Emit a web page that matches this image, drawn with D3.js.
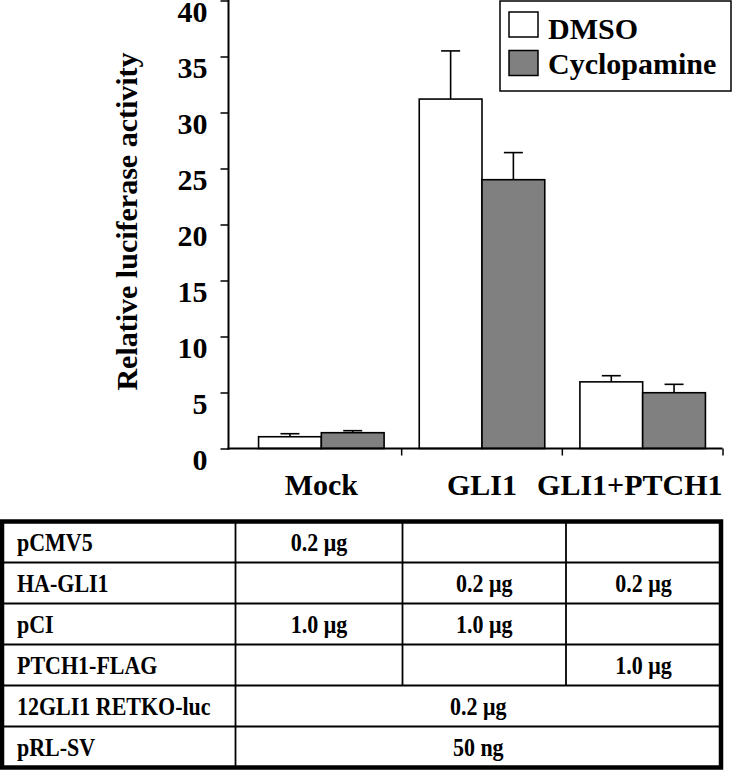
<!DOCTYPE html>
<html>
<head>
<meta charset="utf-8">
<script src="https://cdn.jsdelivr.net/npm/d3@7"></script>
<style>
  html, body { margin: 0; padding: 0; background: #fff; }
  svg { display: block; }
  text { font-family: "Liberation Serif", "Times New Roman", serif; font-weight: bold; fill: #000; }
</style>
</head>
<body>
<svg id="chart" width="736" height="772"></svg>
<script>
// ---------------- data ----------------
const categories = ["Mock", "GLI1", "GLI1+PTCH1"];
const seriesNames = ["DMSO", "Cyclopamine"];
const dmsoValues = [1.05, 31.2, 5.95];
const dmsoErrors = [0.27, 4.3, 0.55];
const cycValues = [1.41, 24.0, 4.98];
const cycErrors = [0.18, 2.42, 0.75];
const yTicks = [0, 5, 10, 15, 20, 25, 30, 35, 40];
const yTitle = "Relative luciferase activity";

const tableRowLabels = ["pCMV5", "HA-GLI1", "pCI", "PTCH1-FLAG", "12GLI1 RETKO-luc", "pRL-SV"];
const tableCells = [
  ["0.2 μg", "", ""],
  ["", "0.2 μg", "0.2 μg"],
  ["1.0 μg", "1.0 μg", ""],
  ["", "", "1.0 μg"],
  ["0.2 μg"],           // spans all three columns
  ["50 ng"]             // spans all three columns
];

// ---------------- setup ----------------
const svg = d3.select("#chart");
const axisX = 228.5, plotRight = 722.5, plotTop = 0.5, plotBottom = 448.5;

const y = d3.scaleLinear().domain([0, 40]).range([plotBottom, plotTop]);
const x = d3.scaleBand().domain(categories).range([241, 723]).paddingInner(0).paddingOuter(0);
const xs = d3.scaleBand().domain(seriesNames).range([0, x.bandwidth()]).paddingInner(0).paddingOuter(0.28);

const fills = { "DMSO": "#ffffff", "Cyclopamine": "#808080" };

const data = [];
categories.forEach((c, i) => {
  data.push({ cat: c, s: "DMSO", v: dmsoValues[i], e: dmsoErrors[i] });
  data.push({ cat: c, s: "Cyclopamine", v: cycValues[i], e: cycErrors[i] });
});

// ---------------- bars ----------------
const g = svg.append("g");
g.selectAll("rect.bar").data(data).enter().append("rect")
  .attr("class", "bar")
  .attr("x", d => x(d.cat) + xs(d.s))
  .attr("y", d => y(d.v))
  .attr("width", xs.bandwidth())
  .attr("height", d => y(0) - y(d.v))
  .attr("fill", d => fills[d.s])
  .attr("stroke", "#000")
  .attr("stroke-width", 1.6);

// error bars (upper only)
const capW = 19;
g.selectAll("line.err").data(data).enter().append("line")
  .attr("x1", d => x(d.cat) + xs(d.s) + xs.bandwidth() / 2)
  .attr("x2", d => x(d.cat) + xs(d.s) + xs.bandwidth() / 2)
  .attr("y1", d => y(d.v))
  .attr("y2", d => y(d.v + d.e))
  .attr("stroke", "#000").attr("stroke-width", 1.6);
g.selectAll("line.cap").data(data).enter().append("line")
  .attr("x1", d => x(d.cat) + xs(d.s) + xs.bandwidth() / 2 - capW / 2)
  .attr("x2", d => x(d.cat) + xs(d.s) + xs.bandwidth() / 2 + capW / 2)
  .attr("y1", d => y(d.v + d.e))
  .attr("y2", d => y(d.v + d.e))
  .attr("stroke", "#000").attr("stroke-width", 1.6);

// ---------------- y axis ----------------
const yAxis = d3.axisLeft(y).tickValues(yTicks).tickSize(8).tickPadding(13).tickSizeOuter(0);
const yg = svg.append("g").attr("transform", `translate(${axisX},0)`).call(yAxis);
yg.select(".domain").remove();
yg.selectAll(".tick line").attr("stroke", "#000").attr("stroke-width", 1.5);
yg.selectAll(".tick text")
  .attr("dy", "20.8px")
  .style("font-family", '"Liberation Serif", "Times New Roman", serif')
  .style("font-weight", "bold")
  .style("font-size", "30px")
  .attr("fill", "#000");
svg.append("line")
  .attr("x1", axisX).attr("x2", axisX)
  .attr("y1", y(40) - 0.5).attr("y2", plotBottom + 1)
  .attr("stroke", "#000").attr("stroke-width", 2);

// ---------------- x axis ----------------
svg.append("line")
  .attr("x1", axisX - 1).attr("x2", plotRight)
  .attr("y1", plotBottom).attr("y2", plotBottom)
  .attr("stroke", "#000").attr("stroke-width", 2);
svg.selectAll("line.xtick").data(categories).enter().append("line")
  .attr("x1", d => x(d) + x.bandwidth()).attr("x2", d => x(d) + x.bandwidth())
  .attr("y1", plotBottom).attr("y2", plotBottom + 7)
  .attr("stroke", "#000").attr("stroke-width", 1.5);
svg.selectAll("text.xlab").data(categories).enter().append("text")
  .attr("class", "xlab")
  .attr("x", d => x(d) + x.bandwidth() / 2)
  .attr("y", 495)
  .attr("text-anchor", "middle")
  .style("font-size", "30px")
  .text(d => d)
  .each(function () {
    const w = this.getComputedTextLength();
    const cx = +this.getAttribute("x");
    if (cx + w / 2 > plotRight) this.setAttribute("x", plotRight - w / 2);
  });

// y title
svg.append("text")
  .attr("transform", "translate(137,221.5) rotate(-90)")
  .attr("text-anchor", "middle")
  .style("font-size", "30px")
  .text(yTitle);

// ---------------- legend ----------------
const lg = svg.append("g");
lg.append("rect").attr("x", 500).attr("y", 1).attr("width", 231).attr("height", 90)
  .attr("fill", "#fff").attr("stroke", "#000").attr("stroke-width", 1.5);
seriesNames.forEach((s, i) => {
  lg.append("rect").attr("x", 509).attr("y", 12 + i * 38.5).attr("width", 29).attr("height", 25)
    .attr("fill", fills[s]).attr("stroke", "#000").attr("stroke-width", 1.5);
  lg.append("text").attr("x", 548).attr("y", 38.5 + i * 35.5)
    .style("font-size", "30px").text(s);
});

// ---------------- table ----------------
const tblLeft = 2, tblRight = 721, tblTop = 521.5, rowH = 41;
const colX = [tblLeft, 235.5, 402.5, 566, tblRight];
const tg = svg.append("g");
const nRows = tableRowLabels.length;
d3.range(1, nRows).forEach(i => {
  tg.append("line").attr("x1", tblLeft).attr("x2", tblRight)
    .attr("y1", tblTop + i * rowH).attr("y2", tblTop + i * rowH)
    .attr("stroke", "#000").attr("stroke-width", 1.8);
});
tableCells.forEach((row, r) => {
  const y0 = tblTop + r * rowH, y1 = y0 + rowH;
  tg.append("line").attr("x1", colX[1]).attr("x2", colX[1]).attr("y1", y0).attr("y2", y1)
    .attr("stroke", "#000").attr("stroke-width", 1.8);
  if (row.length === 3) {
    [2, 3].forEach(c => {
      tg.append("line").attr("x1", colX[c]).attr("x2", colX[c]).attr("y1", y0).attr("y2", y1)
        .attr("stroke", "#000").attr("stroke-width", 1.8);
    });
  }
});
tg.append("rect").attr("x", tblLeft).attr("y", tblTop)
  .attr("width", tblRight - tblLeft).attr("height", nRows * rowH)
  .attr("fill", "none").attr("stroke", "#000").attr("stroke-width", 4.5);

function cellText(tx, ty, str, anchor) {
  tg.append("text")
    .attr("transform", `translate(${tx},${ty}) scale(1,1.1)`)
    .attr("text-anchor", anchor)
    .style("font-size", "22px")
    .text(str);
}
tableRowLabels.forEach((lab, r) => {
  const cy = tblTop + r * rowH + rowH / 2 + 8.5;
  cellText(17, cy, lab, "start");
  const row = tableCells[r];
  if (row.length === 3) {
    row.forEach((v, c) => {
      if (v) cellText((colX[c + 1] + colX[c + 2]) / 2, cy, v, "middle");
    });
  } else {
    cellText((colX[1] + colX[4]) / 2, cy, row[0], "middle");
  }
});
</script>
</body>
</html>
